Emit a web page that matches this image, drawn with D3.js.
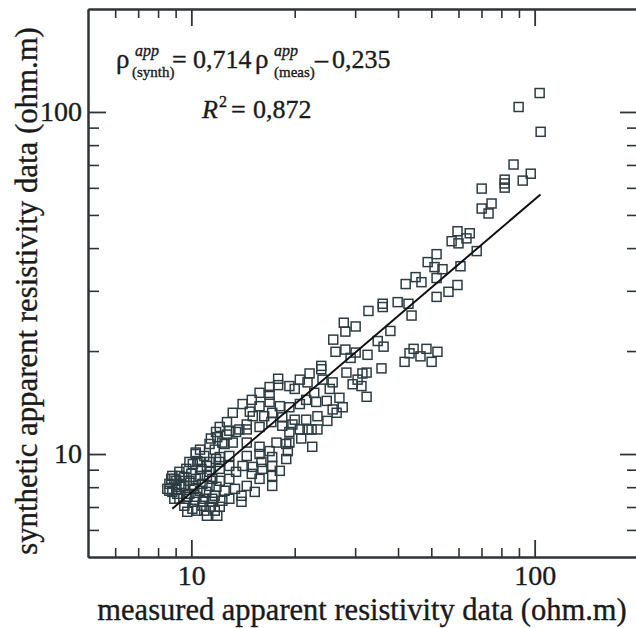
<!DOCTYPE html>
<html>
<head>
<meta charset="utf-8">
<script src="https://cdn.jsdelivr.net/npm/d3@7"></script>
<style>
  html, body { margin: 0; padding: 0; background: #ffffff; }
  svg { display: block; }
  text { font-family: "Liberation Serif", "Times New Roman", serif; fill: #1a1a1a; stroke: #1a1a1a; stroke-width: 0.35px; }
</style>
</head>
<body>
<svg id="chart" width="636" height="628" font-family="Liberation Serif, serif"></svg>
<script>
// ---------------- data ----------------
const measured = [
  103.4, 89.8, 104.1, 86.8, 97.4, 92.3, 81.8, 81.8, 81.8, 70.1, 70.1, 74.9, 73.4,
  59.6, 64.7, 57.3, 60.0, 63.3, 67.8, 51.8, 48.8, 51.1, 53.9, 60.8, 45.0, 42.1, 46.8,
  51.8, 59.6, 56.1, 51.8, 39.9, 42.9, 43.8, 36.1, 36.1, 32.8, 27.8, 30.1, 28.1, 38.0,
  34.9, 36.3, 25.9, 28.1, 26.3, 30.1, 32.6, 29.1, 35.8, 31.5, 32.4, 30.5, 28.3, 29.5,
  31.3, 25.8, 25.3, 32.4,
  41.8, 44.4, 46.5, 48.4, 50.1, 52.1, 43.2,
  23.9, 23.9, 22.1, 21.8, 20.7, 19.3, 17.9, 17.9, 16.9, 16.9, 15.8, 13.2, 22.8, 24.1,
  20.0, 27.0, 25.8, 24.8, 27.6, 23.1, 21.6, 20.7, 19.3, 18.1, 16.9, 15.8, 14.8, 15.1,
  16.3, 17.2, 18.4, 20.0, 21.6, 23.3, 26.5, 24.9, 21.8, 20.7, 19.7, 18.4, 17.1, 15.8,
  14.5, 19.3, 22.4, 20.9, 19.3, 17.7, 15.8, 14.5, 15.8, 16.9, 18.9, 19.1, 17.2, 16.0,
  14.5, 14.1, 15.1, 16.1, 17.2, 18.1, 17.2, 15.8, 15.0, 14.5, 15.3, 17.2, 14.0, 14.0,
  18.9, 22.5, 23.3,
  13.5, 12.7, 11.9, 11.3, 10.6, 10.3, 10.9, 11.7, 12.5, 13.2, 12.9, 12.1, 11.3, 9.87,
  9.67, 9.23, 8.80, 8.63, 8.80, 9.23, 9.87, 10.6, 11.3, 12.1, 12.9, 13.5, 12.9, 12.1,
  11.3, 10.6, 9.87, 9.23, 9.54, 10.2, 10.9, 11.7, 12.5, 13.4, 12.9, 12.1, 11.3, 10.4,
  9.73, 11.1, 11.9,
  10.1, 9.04, 9.54, 10.1, 10.3, 11.1, 9.73, 10.8, 11.5, 11.7, 10.9, 8.74, 11.1, 11.8,
  11.4, 10.3, 12.3, 12.1, 11.8, 12.7, 12.9, 10.6, 9.23, 8.51, 8.92, 10.2, 9.54, 14.5,
  13.8, 15.0, 14.1,
  8.63, 9.04, 10.77, 11.51, 10.0, 10.7, 9.35, 10.34, 9.67, 11.06, 11.83, 12.31, 11.51,
  10.07, 10.77, 9.10, 8.92, 10.41, 12.07
];
const synthetic = [
  113.6, 103.4, 87.5, 70.2, 66.0, 63.0, 63.4, 61.8, 60.1, 59.7, 52.2, 54.0, 50.5,
  44.8, 44.2, 41.9, 41.3, 42.7, 39.2, 38.4, 36.4, 35.2, 34.7, 35.4, 32.9, 31.4, 31.8,
  32.7, 31.2, 29.8, 28.8, 27.8, 27.5, 25.4, 27.5, 26.9, 26.2, 24.2, 23.6, 22.8, 22.9,
  21.4, 20.6, 21.6, 20.2, 19.9, 19.8, 19.5, 19.1, 17.8, 17.2, 17.3, 16.5, 17.3, 16.0,
  15.8, 16.2, 15.5, 14.7,
  18.6, 20.3, 19.3, 20.3, 18.6, 19.9, 19.7,
  18.1, 17.7, 17.2, 16.2, 16.5, 15.8, 16.6, 15.9, 15.7, 14.9, 15.1, 13.2, 15.1, 16.5,
  15.5, 14.6, 13.5, 14.3, 13.7, 14.2, 14.4, 14.0, 13.7, 13.8, 14.2, 13.8, 13.3, 12.9,
  12.9, 13.2, 12.8, 12.6, 12.6, 12.9, 13.2, 12.5, 11.8, 11.8, 12.2, 12.1, 12.4, 12.0,
  11.8, 11.6, 11.8, 11.1, 10.8, 10.8, 10.5, 10.8, 10.0, 10.2, 10.7, 10.2, 9.80, 9.48,
  9.87, 9.23, 9.17, 9.05, 9.23, 8.93, 8.63, 8.46, 8.75, 8.07, 7.75, 8.07, 7.55, 7.25,
  9.67, 10.5, 11.8,
  11.6, 11.4, 11.2, 10.7, 10.3, 10.0, 9.87, 10.3, 10.7, 10.8, 9.87, 9.80, 9.48, 9.48,
  9.05, 8.87, 8.63, 8.18, 7.75, 8.02, 8.35, 8.63, 8.87, 9.05, 9.23, 8.87, 8.46, 8.35,
  8.07, 7.81, 7.65, 7.40, 7.06, 7.25, 7.40, 7.55, 7.81, 7.91, 7.40, 7.01, 7.01, 6.83,
  6.78, 6.60, 6.60,
  9.35, 7.91, 8.07, 8.07, 8.46, 8.63, 7.50, 7.25, 7.40, 6.83, 6.83, 8.46, 9.23, 9.67,
  11.1, 10.1, 10.8, 12.0, 11.6, 12.4, 11.7, 9.48, 8.63, 7.91, 7.40, 7.91, 8.57, 12.2,
  11.8, 14.4, 14.0,
  7.81, 8.35, 8.18, 8.46, 8.75, 9.05, 8.18, 7.50, 7.40, 7.75, 8.02, 7.30, 7.25,
  6.92, 7.06, 7.65, 8.46, 9.54, 9.48
];
// regression line end points (measured, synthetic)
const fitMeasured = [8.8, 104];
const fitSynthetic = [6.92, 57.4];

const domainX = [5, 200];
const domainY = [5, 200];
const majorTicks = [10, 100];
const minorTicks = [6, 7, 8, 9, 20, 30, 40, 50, 60, 70, 80, 90];
const xTitle = "measured apparent resistivity data (ohm.m)";
const yTitle = "synthetic apparent resistivity data (ohm.m)";

// ---------------- layout ----------------
const FONT = '"Liberation Serif", "Times New Roman", serif';
const L = 88, R = 638, T = 9, B = 557;
const svg = d3.select("#chart");
const x = d3.scaleLog().domain(domainX).range([L, R]);
const y = d3.scaleLog().domain(domainY).range([B, T]);
const axisColor = "#2e3436";

function styleAxis(g, sw) {
  g.attr("font-family", FONT);
  g.selectAll(".domain").attr("stroke", axisColor).attr("stroke-width", 2);
  g.selectAll(".tick line").attr("stroke", axisColor).attr("stroke-width", sw);
  g.selectAll(".tick text").attr("font-family", FONT).style("font-family", FONT)
    .style("font-size", "28px").attr("fill", "#1a1a1a");
}

// bottom
const gB1 = svg.append("g").attr("transform", `translate(0,${B})`)
  .call(d3.axisBottom(x).tickValues(majorTicks).tickSize(-17).tickSizeOuter(0)
    .tickPadding(8).tickFormat(d3.format("d")));
styleAxis(gB1, 1.8);
const gB2 = svg.append("g").attr("transform", `translate(0,${B})`)
  .call(d3.axisBottom(x).tickValues(minorTicks).tickSize(-9).tickSizeOuter(0).tickFormat(""));
styleAxis(gB2, 1.6);

// top
const gT1 = svg.append("g").attr("transform", `translate(0,${T})`)
  .call(d3.axisTop(x).tickValues(majorTicks).tickSize(-17).tickSizeOuter(0).tickFormat(""));
styleAxis(gT1, 1.8);
const gT2 = svg.append("g").attr("transform", `translate(0,${T})`)
  .call(d3.axisTop(x).tickValues(minorTicks).tickSize(-9).tickSizeOuter(0).tickFormat(""));
styleAxis(gT2, 1.6);

// left
const gL1 = svg.append("g").attr("transform", `translate(${L},0)`)
  .call(d3.axisLeft(y).tickValues(majorTicks).tickSize(-18).tickSizeOuter(0)
    .tickPadding(6).tickFormat(d3.format("d")));
styleAxis(gL1, 1.8);
const gL2 = svg.append("g").attr("transform", `translate(${L},0)`)
  .call(d3.axisLeft(y).tickValues(minorTicks).tickSize(-11).tickSizeOuter(0).tickFormat(""));
styleAxis(gL2, 1.6);

// right
const gR1 = svg.append("g").attr("transform", `translate(${R},0)`)
  .call(d3.axisRight(y).tickValues(majorTicks).tickSize(-18).tickSizeOuter(0).tickFormat(""));
styleAxis(gR1, 1.8);
const gR2 = svg.append("g").attr("transform", `translate(${R},0)`)
  .call(d3.axisRight(y).tickValues(minorTicks).tickSize(-11).tickSizeOuter(0).tickFormat(""));
styleAxis(gR2, 1.6);

// ---------------- points ----------------
const pts = measured.map((m, i) => ({m, s: synthetic[i]}));
const sq = 9;
svg.append("g").selectAll("rect").data(pts).join("rect")
  .attr("x", d => x(d.m) - sq / 2)
  .attr("y", d => y(d.s) - sq / 2)
  .attr("width", sq).attr("height", sq)
  .attr("fill", "none")
  .attr("stroke", "#2e3d43")
  .attr("stroke-width", 1.5);

// regression line
const fit = fitMeasured.map((m, i) => [m, fitSynthetic[i]]);
svg.append("path").datum(fit)
  .attr("d", d3.line().x(d => x(d[0])).y(d => y(d[1])))
  .attr("stroke", "#111").attr("stroke-width", 2).attr("fill", "none");

// ---------------- titles ----------------
svg.append("text").attr("x", (L + R) / 2 - 1).attr("y", 620)
  .attr("text-anchor", "middle").attr("font-family", FONT)
  .style("font-size", "30.5px").text(xTitle);
svg.append("text")
  .attr("transform", `translate(37,${(T + B) / 2 + 8}) rotate(-90)`)
  .attr("text-anchor", "middle").attr("font-family", FONT)
  .style("font-size", "30.8px").text(yTitle);

// ---------------- equation ----------------
const eq = svg.append("g").attr("font-family", FONT);
function t(xp, yp, size, str, italic) {
  eq.append("text").attr("x", xp).attr("y", yp).attr("font-family", FONT)
    .style("font-size", size + "px")
    .style("font-style", italic ? "italic" : "normal").text(str);
}
t(116, 68, 27, "ρ");
t(135, 56, 16, "app", true);
t(132, 77, 15, "(synth)");
t(172, 68, 26, "=");
t(193, 68, 26, "0,714");
t(255, 68, 27, "ρ");
t(274, 56, 16, "app", true);
t(274, 77, 15, "(meas)");
t(315, 68, 26, "–");
t(332, 68, 26, "0,235");
t(202, 118, 26, "R", true);
t(219, 107, 16, "2");
t(231, 118, 26, "=");
t(253, 118, 26, "0,872");
</script>
</body>
</html>
